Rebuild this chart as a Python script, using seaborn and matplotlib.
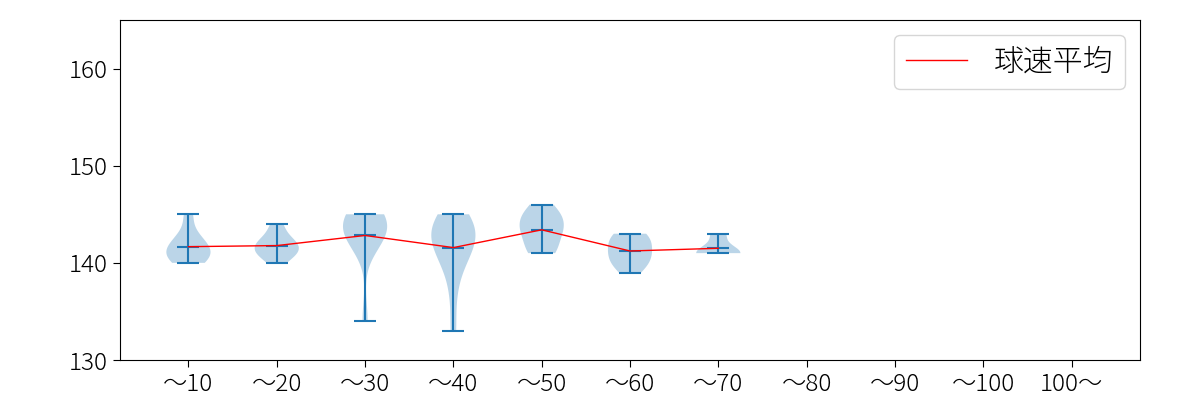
import matplotlib
matplotlib.use("Agg")
import matplotlib.pyplot as plt
import seaborn as sns
import numpy as np
import pandas as pd

plt.rcParams['font.family'] = ['Noto Sans CJK JP', 'DejaVu Sans']

# categories (pitch-count bins)
categories = ['〜10', '〜20', '〜30', '〜40', '〜50', '〜60', '〜70', '〜80', '〜90', '〜100', '100〜']

# pitch speeds (km/h) per bin
speeds_10 = [140, 140, 141, 141, 141, 142, 142, 143, 145]
speeds_20 = [140, 141, 141, 141, 142, 142, 142, 143, 144]
speeds_30 = [134, 142, 142, 143, 143, 144, 144, 144, 145, 145, 145]
speeds_40 = [133, 137, 140, 140, 141, 142, 142, 143, 143, 143, 144, 144, 145, 145]
speeds_50 = [141, 141, 142, 143, 143, 144, 144, 145, 145, 146]
speeds_60 = [139, 140, 140, 141, 141, 142, 142, 143, 143]
speeds_70 = [141, 141, 141, 143]

speed_groups = [speeds_10, speeds_20, speeds_30, speeds_40, speeds_50, speeds_60, speeds_70]
legend_label = '球速平均'

fig, ax = plt.subplots(figsize=(12, 4), dpi=100)
fig.subplots_adjust(left=0.1, right=0.95, bottom=0.1, top=0.95)

positions = list(range(1, len(speed_groups) + 1))
ax.violinplot(speed_groups, positions=positions, showmeans=True, showextrema=True)

means = [float(np.mean(g)) for g in speed_groups]
df = pd.DataFrame({'pos': positions, 'mean': means})
sns.lineplot(data=df, x='pos', y='mean', color='red', linewidth=1, ax=ax, label=legend_label)

ax.set_xticks(range(1, len(categories) + 1))
ax.set_xticklabels(categories)
ax.set_xlim(0.225, 11.775)
ax.set_ylim(130, 165)
ax.set_yticks([130, 140, 150, 160])
ax.set_xlabel('')
ax.set_ylabel('')
ax.tick_params(labelsize=17.5)
ax.tick_params(length=5)
for lbl in ax.get_xticklabels() + ax.get_yticklabels():
    lbl.set_fontweight('light')
leg = ax.legend(loc='upper right', fontsize=21.5, handlelength=2.05, handletextpad=0.9)
for t in leg.get_texts():
    t.set_fontweight('light')

fig.savefig('out.png', dpi=100)
